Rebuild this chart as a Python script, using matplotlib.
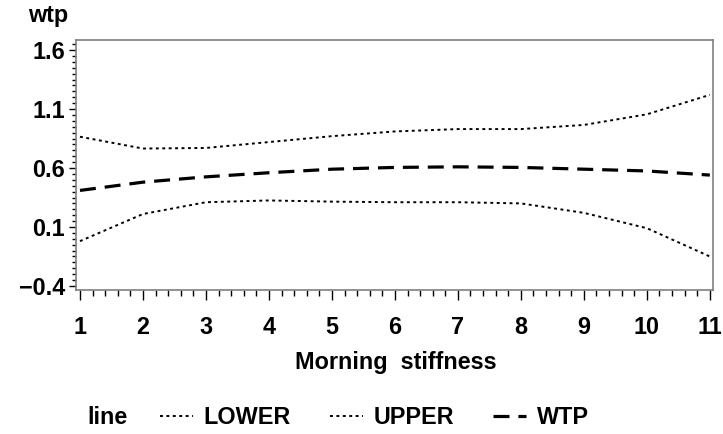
import numpy as np
import matplotlib
matplotlib.use("Agg")
import matplotlib.pyplot as plt
from matplotlib.ticker import MultipleLocator, AutoMinorLocator

plt.rcParams['font.family'] = ['Liberation Sans', 'DejaVu Sans']
plt.rcParams['font.weight'] = 'bold'

# values
stiffness = [1, 2, 3, 4, 5, 6, 7, 8, 9, 10, 11]
upper = [0.865, 0.765, 0.77, 0.82, 0.87, 0.91, 0.93, 0.93, 0.965, 1.055, 1.22]
wtp = [0.41, 0.48, 0.525, 0.56, 0.59, 0.605, 0.61, 0.605, 0.59, 0.575, 0.54]
lower = [-0.02, 0.21, 0.31, 0.325, 0.315, 0.31, 0.31, 0.30, 0.22, 0.09, -0.15]
y_ticks = [-0.4, 0.1, 0.6, 1.1, 1.6]

fs = 16.8
fig = plt.figure(figsize=(7.23, 4.34), dpi=100)
ax = fig.add_axes([76 / 723, 1 - 290 / 434, 637 / 723, 250 / 434])

l1, = ax.plot(stiffness, lower, color='black', lw=1.4, linestyle=(0, (1.5, 1.8)))
l2, = ax.plot(stiffness, upper, color='black', lw=1.4, linestyle=(0, (1.5, 1.8)))
l3, = ax.plot(stiffness, wtp, color='black', lw=2.3, linestyle=(0, (5, 2.8)))

ax.set_xlim(0.937, 11.05)
ax.set_ylim(-0.434, 1.685)
ax.set_xticks(stiffness)
ax.set_yticks(y_ticks)
ax.set_yticklabels(['\u22120.4', '0.1', '0.6', '1.1', '1.6'])
ax.xaxis.set_minor_locator(AutoMinorLocator(5))
ax.yaxis.set_minor_locator(AutoMinorLocator(10))

for s in ax.spines.values():
    s.set_color('#808080')
    s.set_linewidth(1.2)

ax.tick_params(axis='x', which='major', length=7, width=1, color='black', labelsize=fs, pad=12)
ax.tick_params(axis='x', which='minor', length=4, width=1, color='black')
ax.tick_params(axis='y', which='major', length=5, width=1, color='black', labelsize=fs, pad=3)
ax.tick_params(axis='y', which='minor', length=3, width=1, color='black')
for lab in ax.get_xticklabels() + ax.get_yticklabels():
    lab.set_fontweight('bold')

fig.text(28 / 723, 1 - 22 / 434, 'wtp', fontsize=fs, fontweight='bold', va='baseline', ha='left')
fig.text(396 / 723, 1 - 369 / 434, 'Morning  stiffness', fontsize=fs, fontweight='bold',
         va='baseline', ha='center')

fig.text(87 / 723, 1 - 418 / 434, 'line', fontsize=fs, fontweight='bold', va='center', ha='left')
fig.legend([l1, l2, l3], ['LOWER', 'UPPER', 'WTP'], ncol=3, frameon=False,
           loc='center left', bbox_to_anchor=(160 / 723, 1 - 418 / 434),
           fontsize=fs, handlelength=1.4, handletextpad=0.45, columnspacing=1.7,
           borderaxespad=0, borderpad=0)

fig.savefig('out.png', dpi=100)
